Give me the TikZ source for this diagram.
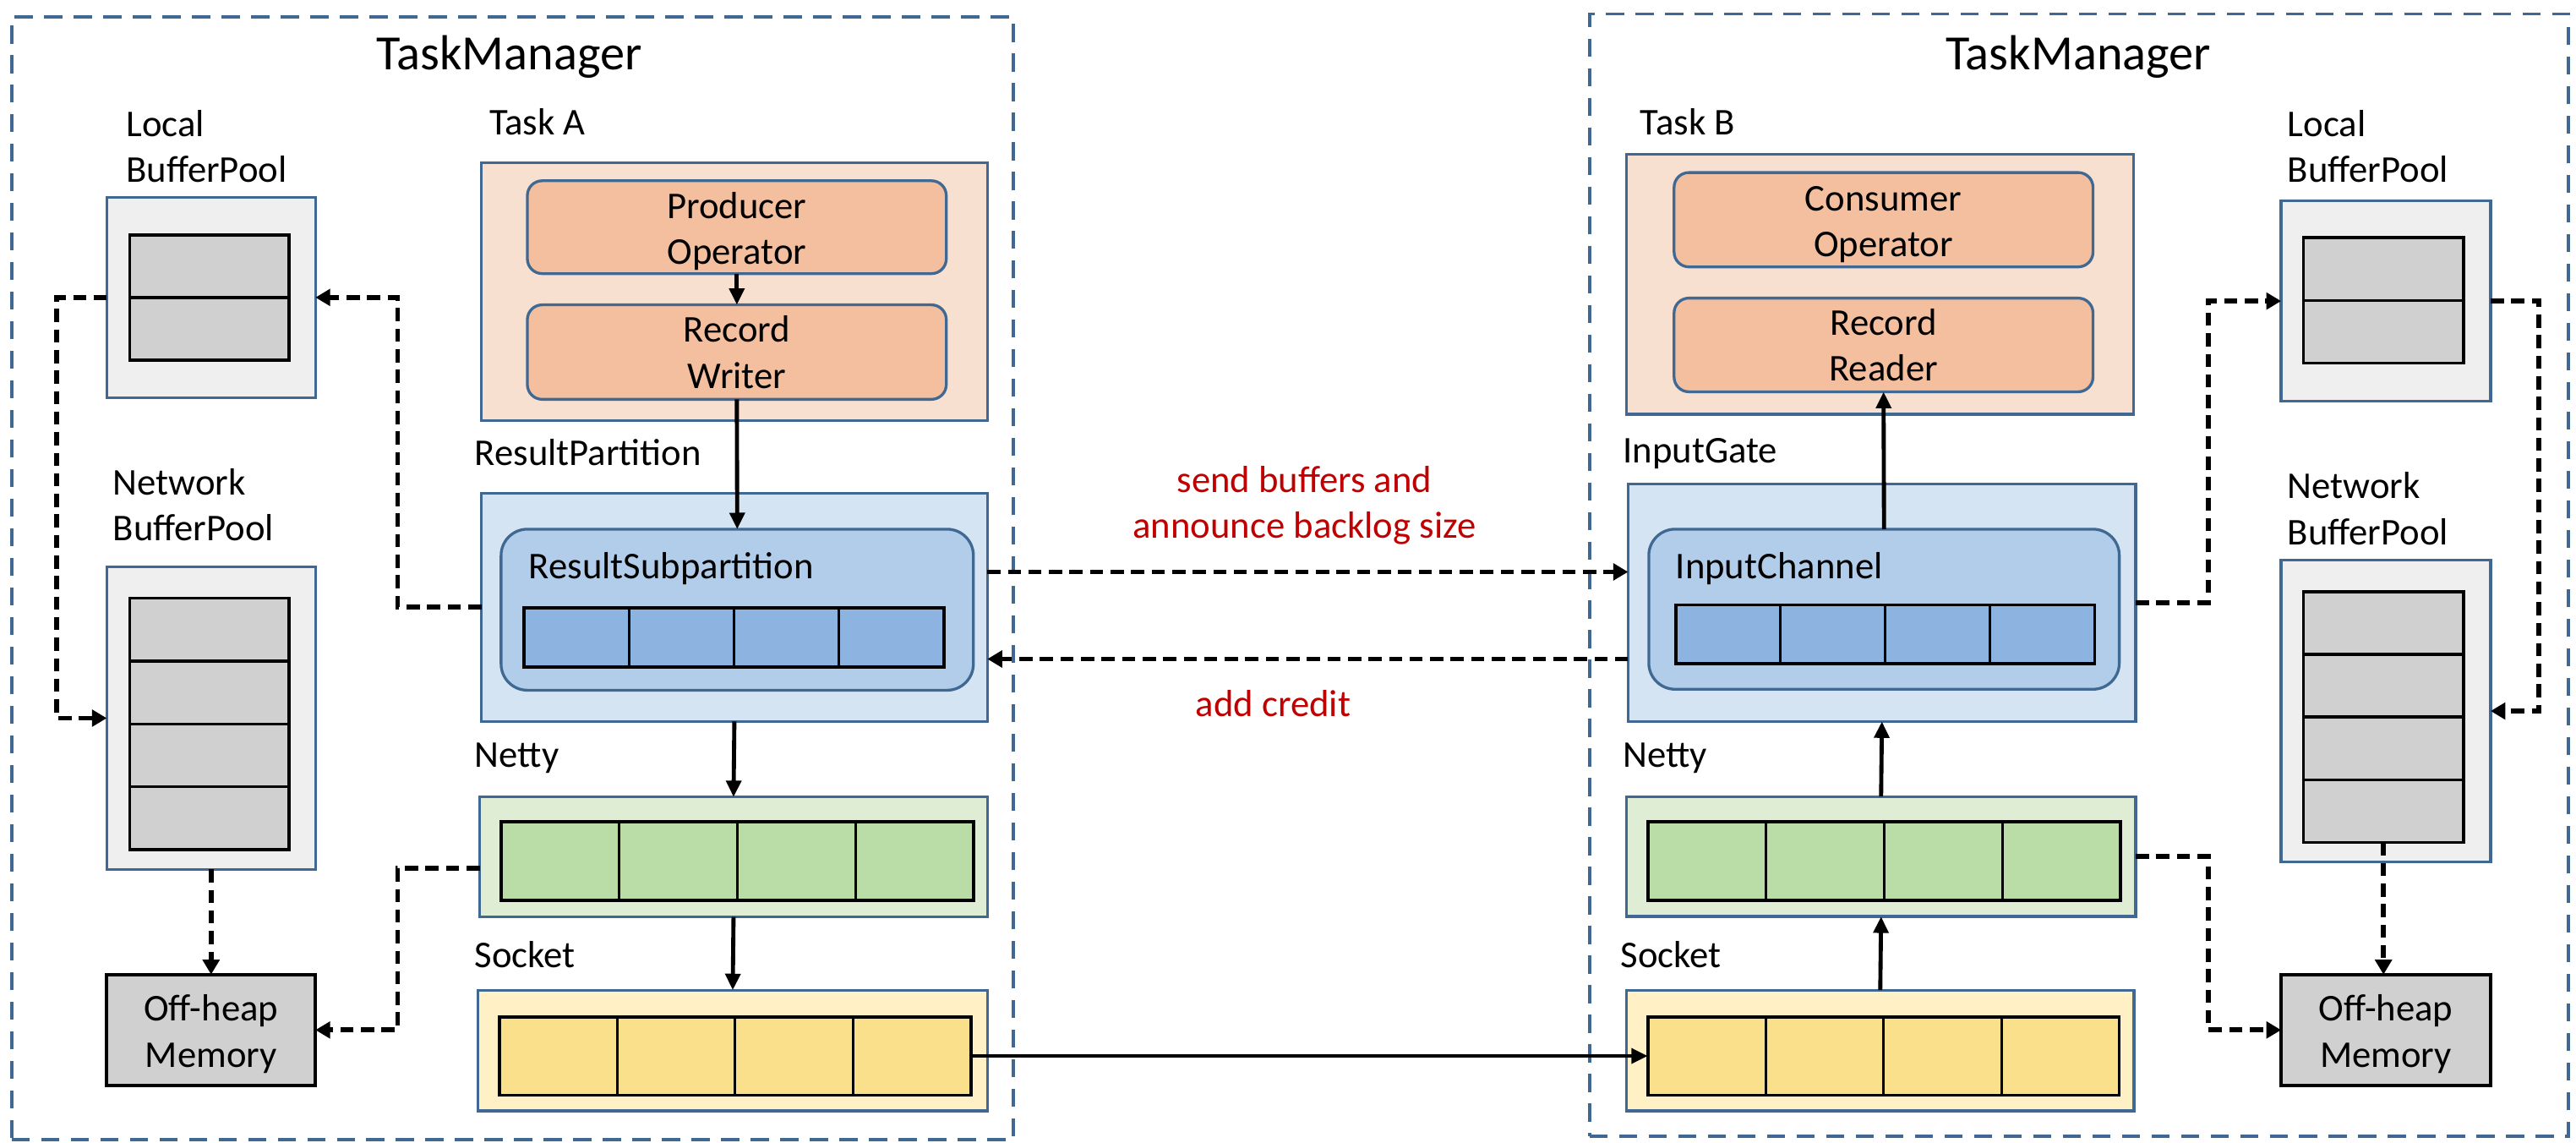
\documentclass[tikz,border=0pt]{standalone}
\usepackage{fontspec}
\setmainfont{Carlito}
\usetikzlibrary{arrows.meta,calc}
\definecolor{blueline}{HTML}{3F6893}
\definecolor{peachbg}{HTML}{F8E0D0}
\definecolor{peachbox}{HTML}{F4BF9E}
\definecolor{bluebg}{HTML}{D5E4F3}
\definecolor{bluemid}{HTML}{B2CDEA}
\definecolor{bluecell}{HTML}{8DB4E0}
\definecolor{greenbg}{HTML}{DEEDD4}
\definecolor{greencell}{HTML}{BADCA6}
\definecolor{yellowbg}{HTML}{FFF1C5}
\definecolor{yellowcell}{HTML}{FBE08C}
\definecolor{graybg}{HTML}{EFEFEF}
\definecolor{graycell}{HTML}{D0D0D0}
\definecolor{redtxt}{HTML}{C00000}
\newcommand\vdiv[1]{\foreach \f in {0.25,0.5,0.75}{\draw[line width=1.5pt] ($(#1.north west)!\f!(#1.north east)$) -- ($(#1.south west)!\f!(#1.south east)$);}}
\newcommand\hdiv[2]{\foreach \f in {#2}{\draw[line width=1.8pt] ($(#1.north west)!\f!(#1.south west)$) -- ($(#1.north east)!\f!(#1.south east)$);}}
\newcommand\topstrut{\rule{0pt}{21pt}}
\begin{document}
\begin{tikzpicture}[x=1pt,y=-1pt,
  every node/.style={inner sep=0pt, outer sep=0pt},
  bx/.style={draw=blueline, line width=1.7pt, anchor=north west},
  rbx/.style={bx, rounded corners=#1},
  cellbox/.style={draw=black, line width=1.9pt, anchor=north west},
  lbl/.style={font=\fontsize{23pt}{28pt}\selectfont, align=left},
  ctxt/.style={font=\fontsize{23pt}{28pt}\selectfont, align=center},
  tmframe/.style={draw=blueline, line width=2pt, dash pattern=on 11pt off 7pt, anchor=north west},
  dar/.style={line width=3pt, dash pattern=on 8pt off 4.5pt, -{Triangle[length=9pt,width=10pt]}},
  sar/.style={line width=2.5pt, -{Triangle[length=10pt,width=9pt]}}]
\useasboundingbox (0,0) rectangle (1568,695.5);

% TaskManager frames
\node[tmframe, minimum width=610pt, minimum height=683pt] (tmL) at (7,10.5) {};
\node[tmframe, minimum width=596pt, minimum height=683pt] (tmR) at (967.5,8.5) {};
\node[font=\fontsize{30pt}{34pt}\selectfont] (tmLt) at (310,34.5) {TaskManager};
\node[font=\fontsize{30pt}{34pt}\selectfont] (tmRt) at (1265,34.5) {TaskManager};

% ---------- Left side ----------
\node[lbl, anchor=west] (lbpLt) at (76.8,89) {Local\\BufferPool};
\node[bx, fill=graybg, minimum width=127pt, minimum height=122pt] (lbpL) at (65,120) {};
\node[cellbox, fill=graycell, minimum width=97pt, minimum height=76pt] (lbpLc) at (79,143) {};
\hdiv{lbpLc}{0.5}

\node[lbl, anchor=west] (nbpLt) at (68.9,307.3) {Network\\BufferPool};
\node[bx, fill=graybg, minimum width=127pt, minimum height=184pt] (nbpL) at (65,345) {};
\node[cellbox, fill=graycell, minimum width=97pt, minimum height=153pt] (nbpLc) at (79,364) {};
\hdiv{nbpLc}{0.25,0.5,0.75}

\node[cellbox, fill=graycell, minimum width=127pt, minimum height=67.5pt, line width=2.2pt, ctxt] (ohL) at (65,593) {\topstrut Off-heap\\Memory};

\node[lbl, anchor=base west] (tAt) at (298,82) {Task A};
\node[bx, fill=peachbg, minimum width=308pt, minimum height=157pt] (tA) at (293,99) {};
\node[rbx=9pt, fill=peachbox, minimum width=255pt, minimum height=56.5pt, ctxt] (prod) at (321,110) {\topstrut Producer\\Operator};
\node[rbx=9pt, fill=peachbox, minimum width=255pt, minimum height=57.5pt, ctxt] (rw) at (321,185.5) {Record\\Writer};

\node[lbl, anchor=base west] (rpartt) at (289,283) {ResultPartition};
\node[bx, fill=bluebg, minimum width=308pt, minimum height=139pt] (rpart) at (293,300) {};
\node[rbx=16pt, fill=bluemid, minimum width=287.5pt, minimum height=98pt] (rsub) at (305,322) {};
\node[lbl, anchor=base west] (rsubt) at (322,352) {ResultSubpartition};
\node[cellbox, fill=bluecell, minimum width=255.5pt, minimum height=36pt] (rsubc) at (319,370) {};
\vdiv{rsubc}

\node[lbl, anchor=base west] (nettyLt) at (289,467) {Netty};
\node[bx, fill=greenbg, minimum width=309pt, minimum height=73pt] (nettyL) at (292,485) {};
\node[cellbox, fill=greencell, minimum width=287.5pt, minimum height=48pt] (nettyLc) at (305,500) {};
\vdiv{nettyLc}

\node[lbl, anchor=base west] (sockLt) at (289,589) {Socket};
\node[bx, fill=yellowbg, minimum width=310pt, minimum height=73.5pt] (sockL) at (291,602.5) {};
\node[cellbox, fill=yellowcell, minimum width=287pt, minimum height=47.7pt] (sockLc) at (304,618.7) {};
\vdiv{sockLc}

% ---------- Right side ----------
\node[lbl, anchor=base west] (tBt) at (998.5,82) {Task B};
\node[bx, fill=peachbg, minimum width=308.5pt, minimum height=158pt] (tB) at (990,94) {};
\node[rbx=9pt, fill=peachbox, minimum width=255pt, minimum height=57.4pt, ctxt] (cons) at (1019,105) {\topstrut Consumer\\Operator};
\node[rbx=9pt, fill=peachbox, minimum width=255pt, minimum height=57pt, ctxt] (rr) at (1019,181.4) {Record\\Reader};

\node[lbl, anchor=base west] (igatet) at (988,281.5) {InputGate};
\node[bx, fill=bluebg, minimum width=309pt, minimum height=144.4pt] (igate) at (991,294.6) {};
\node[rbx=16pt, fill=bluemid, minimum width=286.4pt, minimum height=97.4pt] (ich) at (1003.6,322) {};
\node[lbl, anchor=base west] (icht) at (1020,352) {InputChannel};
\node[cellbox, fill=bluecell, minimum width=255pt, minimum height=35.7pt] (ichc) at (1020,368) {};
\vdiv{ichc}

\node[lbl, anchor=base west] (nettyRt) at (988,467) {Netty};
\node[bx, fill=greenbg, minimum width=310pt, minimum height=73pt] (nettyR) at (990,484.7) {};
\node[cellbox, fill=greencell, minimum width=287.7pt, minimum height=48pt] (nettyRc) at (1003,500) {};
\vdiv{nettyRc}

\node[lbl, anchor=base west] (sockRt) at (986.6,589) {Socket};
\node[bx, fill=yellowbg, minimum width=309pt, minimum height=73.5pt] (sockR) at (990,602.5) {};
\node[cellbox, fill=yellowcell, minimum width=287pt, minimum height=47.7pt] (sockRc) at (1003,618.7) {};
\vdiv{sockRc}

\node[lbl, anchor=west] (lbpRt) at (1392.5,89) {Local\\BufferPool};
\node[bx, fill=graybg, minimum width=127.5pt, minimum height=122pt] (lbpR) at (1388.5,122.2) {};
\node[cellbox, fill=graycell, minimum width=97.6pt, minimum height=76.3pt] (lbpRc) at (1402,144.7) {};
\hdiv{lbpRc}{0.5}

\node[lbl, anchor=west] (nbpRt) at (1392.5,309.6) {Network\\BufferPool};
\node[bx, fill=graybg, minimum width=127.5pt, minimum height=183.7pt] (nbpR) at (1388.5,340.8) {};
\node[cellbox, fill=graycell, minimum width=97.6pt, minimum height=152.6pt] (nbpRc) at (1402,360) {};
\hdiv{nbpRc}{0.25,0.5,0.75}

\node[cellbox, fill=graycell, minimum width=127.5pt, minimum height=67.5pt, line width=2.2pt, ctxt] (ohR) at (1388.5,593) {\topstrut Off-heap\\Memory};

% ---------- middle labels ----------
\node[ctxt, text=redtxt] (sendt) at (794,307.5) {send buffers and\\announce backlog size};
\node[ctxt, text=redtxt] (creditt) at (775,428) {add credit};

% ---------- solid arrows ----------
\draw[sar] (prod.south) -- (rw.north);
\draw[sar] (rw.south) -- (rsub.north);
\draw[sar] (rpart.south) -- (nettyL.north);
\draw[sar] (nettyL.south) -- (sockL.north);
\draw[sar] (sockLc.east) -- (sockRc.west);
\draw[sar] (sockR.north) -- (nettyR.south);
\draw[sar] (nettyR.north) -- (igate.south);
\draw[sar] (ich.north) -- (rr.south);

% ---------- dashed arrows: left ----------
\coordinate (cL1) at (242,181);
\draw[dar] (rpart.west) -| (cL1) -- (lbpL.east);
\draw[dar] (lbpL.west) -- ++(-30.5,0) |- (nbpL.west);
\draw[dar] (nbpL.south) -- (ohL.north);
\coordinate (cL2) at ($(nettyL.west)+(0,7)$);
\draw[dar] (cL2) -- ++(-50,0) |- (ohL.east);

% ---------- dashed arrows: middle ----------
\coordinate (s1) at ($(rpart.east)+(0,-21.5)$);
\draw[dar] (s1) -- (s1 -| igate.west);
\coordinate (s2) at ($(igate.west)+(0,34.2)$);
\draw[dar] (s2) -- (s2 -| rpart.east);

% ---------- dashed arrows: right ----------
\coordinate (cR1) at (1344,183.2);
\draw[dar] (igate.east) -| (cR1) -- (lbpR.west);
\draw[dar] (lbpR.east) -- ++(29.3,0) |- (nbpR.east);
\draw[dar] (nbpRc.south) -- (nbpRc.south |- ohR.north);
\draw[dar] (nettyR.east) -- ++(44,0) |- (ohR.west);
\end{tikzpicture}
\end{document}
